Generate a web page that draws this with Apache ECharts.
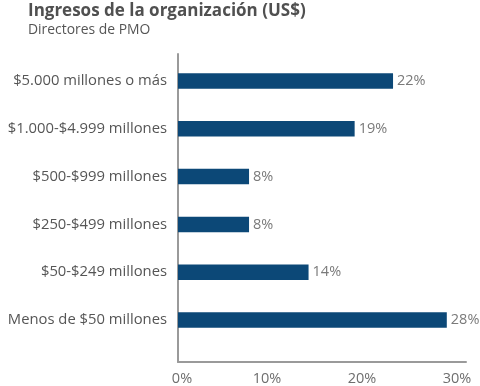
<!DOCTYPE html>
<html><head><meta charset="utf-8">
<script src="https://cdn.jsdelivr.net/npm/echarts@6/dist/echarts.min.js"></script>
<style>html,body{margin:0;padding:0;background:#fff}#c{width:480px;height:386px}</style>
</head><body><div id="c"></div>
<script>
var categories = ["$5.000 millones o más","$1.000-$4.999 millones","$500-$999 millones","$250-$499 millones","$50-$249 millones","Menos de $50 millones"];
var values = [22.4, 18.4, 7.4, 7.4, 13.6, 28.0];
var valueLabels = ["22%","19%","8%","8%","14%","28%"];
var xTicks = [0, 10, 20, 30];
var titleText = "Ingresos de la organización (US$)";
var subtitleText = "Directores de PMO";

var font = "Open Sans";
var tickPad = {0:[0,0,0,8], 10:[0,14,0,0], 20:[0,16,0,0], 30:[0,18,0,0]};
var rich = {};
xTicks.forEach(function(t){ rich['t'+t] = {fontFamily:font, fontSize:14.5, color:'#6e6e6e', padding:tickPad[t]}; });
var chart = echarts.init(document.getElementById('c'), null, {renderer:'canvas'});
chart.setOption({
  animation:false,
  title:{text:titleText, subtext:subtitleText, left:23, top:-2,
    textStyle:{fontFamily:font, fontSize:17, fontWeight:'bold', color:'#505050'},
    subtextStyle:{fontFamily:font, fontSize:13.9, color:'#555555'}, itemGap:3},
  grid:[
    {left:178, right:14, top:57, bottom:42, containLabel:false},
    {left:178, right:14, top:54, bottom:23, containLabel:false}
  ],
  xAxis:[
    {type:'value', gridIndex:0, min:xTicks[0], max:xTicks[xTicks.length-1], interval:10, show:false},
    {type:'value', gridIndex:1, min:xTicks[0], max:xTicks[xTicks.length-1], interval:10,
      axisLine:{show:true, lineStyle:{color:'#9a9a9a', width:2}},
      axisTick:{show:false}, splitLine:{show:false},
      axisLabel:{formatter:function(v){return '{t'+v+'|'+v+'%}';}, rich:rich, margin:9}}
  ],
  yAxis:[
    {type:'category', gridIndex:0, data:categories, inverse:true,
      axisLine:{show:false}, axisTick:{show:false},
      axisLabel:{fontFamily:font, fontSize:14.8, color:'#555555', margin:11}},
    {type:'value', gridIndex:1, min:0, max:1,
      axisLine:{show:true, lineStyle:{color:'#9a9a9a', width:2}},
      axisTick:{show:false}, splitLine:{show:false}, axisLabel:{show:false}}
  ],
  series:[{type:'bar', xAxisIndex:0, yAxisIndex:0, data:values, barWidth:15.5, itemStyle:{color:'#0c4877'},
    label:{show:true, position:'right', distance:4, fontFamily:font, fontSize:14.5, color:'#7a7a7a',
      formatter:function(p){return valueLabels[p.dataIndex];}}}]
});
</script></body></html>
